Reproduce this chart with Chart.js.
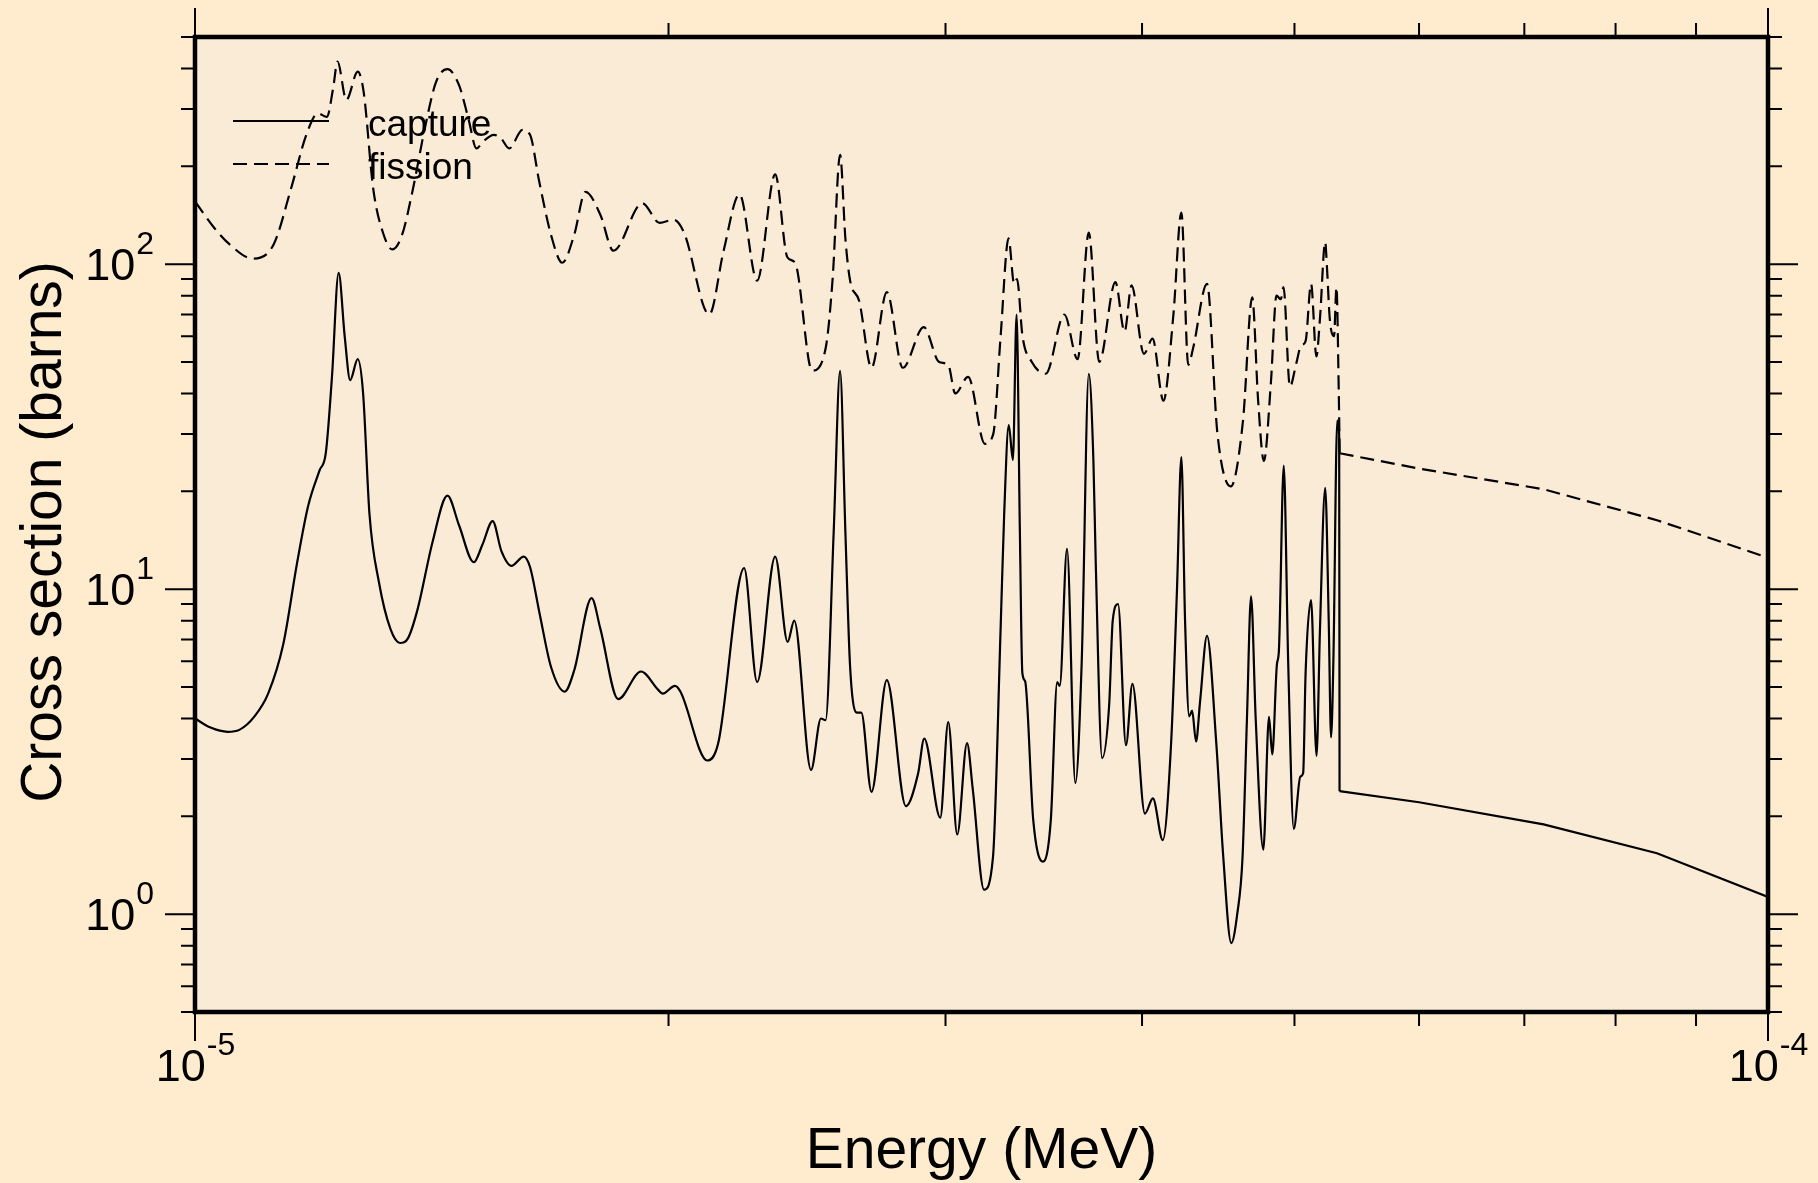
<!DOCTYPE html>
<html>
<head>
<meta charset="utf-8">
<title>Capture and fission cross sections</title>
<script src="https://cdn.jsdelivr.net/npm/chart.js@4.4.1/dist/chart.umd.min.js"></script>
<style>
  html, body { margin: 0; padding: 0; background: #ffebcd; }
  #wrap { width: 1818px; height: 1183px; position: relative; }
</style>
</head>
<body>
<div id="wrap"><canvas id="xsChart"></canvas></div>
<script>
// energies in MeV, cross sections in barns
// resolved resonance region
const captureEnergy = [
  1.000e-5, 1.023e-5, 1.049e-5, 1.067e-5, 1.091e-5, 1.113e-5, 1.138e-5, 1.161e-5, 1.180e-5, 1.200e-5,
  1.211e-5, 1.222e-5, 1.234e-5, 1.245e-5, 1.255e-5, 1.269e-5, 1.279e-5, 1.291e-5, 1.309e-5, 1.331e-5,
  1.350e-5, 1.366e-5, 1.385e-5, 1.416e-5, 1.447e-5, 1.472e-5, 1.504e-5, 1.523e-5, 1.546e-5, 1.566e-5,
  1.589e-5, 1.618e-5, 1.633e-5, 1.656e-5, 1.684e-5, 1.718e-5, 1.742e-5, 1.787e-5, 1.810e-5, 1.858e-5,
  1.921e-5, 1.970e-5, 1.983e-5, 2.019e-5, 2.035e-5, 2.117e-5, 2.151e-5, 2.234e-5, 2.277e-5, 2.338e-5,
  2.381e-5, 2.404e-5, 2.464e-5, 2.500e-5, 2.517e-5, 2.547e-5, 2.571e-5, 2.591e-5, 2.609e-5, 2.635e-5,
  2.652e-5, 2.692e-5, 2.753e-5, 2.831e-5, 2.882e-5, 2.908e-5, 2.977e-5, 3.012e-5, 3.052e-5, 3.096e-5,
  3.122e-5, 3.174e-5, 3.216e-5, 3.252e-5, 3.269e-5, 3.291e-5, 3.311e-5, 3.329e-5, 3.345e-5, 3.357e-5,
  3.371e-5, 3.411e-5, 3.460e-5, 3.500e-5, 3.533e-5, 3.546e-5, 3.584e-5, 3.628e-5, 3.662e-5, 3.700e-5,
  3.725e-5, 3.738e-5, 3.773e-5, 3.812e-5, 3.832e-5, 3.862e-5, 3.907e-5, 3.944e-5, 4.017e-5, 4.064e-5,
  4.123e-5, 4.174e-5, 4.210e-5, 4.237e-5, 4.260e-5, 4.286e-5, 4.304e-5, 4.329e-5, 4.355e-5, 4.399e-5,
  4.459e-5, 4.505e-5, 4.558e-5, 4.598e-5, 4.634e-5, 4.664e-5, 4.692e-5, 4.724e-5, 4.777e-5, 4.817e-5,
  4.840e-5, 4.873e-5, 4.887e-5, 4.922e-5, 4.954e-5, 4.995e-5, 5.043e-5, 5.064e-5, 5.082e-5, 5.123e-5,
  5.164e-5, 5.190e-5, 5.230e-5, 5.257e-5, 5.275e-5, 5.293e-5, 5.323e-5, 5.338e-5, 5.341e-5
];
const captureXs = [
  4.0, 3.75, 3.64, 3.69, 4.06, 4.77, 6.78, 12, 18, 23.2,
  26.2, 45, 94, 60, 44, 51, 40, 17, 10.5, 7.56,
  6.83, 7.07, 8.65, 14, 19.4, 15.7, 12.1, 13.7, 16.2, 13.1,
  11.8, 12.6, 11.7, 8.42, 5.76, 4.84, 5.62, 9.38, 7.56, 4.59,
  5.58, 4.9, 4.77, 5.04, 4.84, 2.97, 3.36, 11.6, 5.18, 12.6,
  6.88, 8.0, 2.78, 4.0, 3.95, 15, 47, 15, 5.76, 4.17,
  4.17, 2.38, 5.25, 2.15, 2.71, 3.47, 1.98, 3.9, 1.76, 3.36,
  2.43, 1.19, 1.5, 7.56, 17, 32, 25, 70, 15, 5.54,
  5.2, 1.95, 1.45, 1.95, 5.18, 5.04, 13.3, 2.53, 6, 46,
  25, 12, 3.02, 4.4, 8.0, 9.0, 3.31, 5.11, 2.04, 2.27,
  1.69, 3.37, 10, 25.5, 8, 4.06, 4.23, 3.4, 4.53, 7.18,
  3.37, 1.5, 0.815, 1.0, 1.5, 4, 9.5, 4, 1.58, 4.05,
  3.1, 5.87, 6.44, 24, 6, 1.83, 2.65, 2.72, 5.52, 9.25,
  3.07, 7.5, 20.5, 8, 3.5, 6, 33, 30, 2.39
];
// smooth region above the last resonance (straight segments)
const captureTailEnergy = [5.341e-5, 6.0e-5, 7.2e-5, 8.5e-5, 1.0e-4];
const captureTailXs = [2.39, 2.21, 1.89, 1.54, 1.13];

const fissionEnergy = [
  1.000e-5, 1.029e-5, 1.052e-5, 1.088e-5, 1.122e-5, 1.151e-5, 1.177e-5, 1.197e-5, 1.213e-5, 1.224e-5,
  1.232e-5, 1.248e-5, 1.269e-5, 1.280e-5, 1.298e-5, 1.316e-5, 1.335e-5, 1.354e-5, 1.376e-5, 1.400e-5,
  1.423e-5, 1.447e-5, 1.472e-5, 1.492e-5, 1.510e-5, 1.524e-5, 1.549e-5, 1.565e-5, 1.584e-5, 1.615e-5,
  1.633e-5, 1.655e-5, 1.684e-5, 1.712e-5, 1.742e-5, 1.771e-5, 1.810e-5, 1.845e-5, 1.925e-5, 1.974e-5,
  2.015e-5, 2.046e-5, 2.123e-5, 2.168e-5, 2.219e-5, 2.277e-5, 2.338e-5, 2.380e-5, 2.407e-5, 2.468e-5,
  2.517e-5, 2.543e-5, 2.571e-5, 2.591e-5, 2.609e-5, 2.644e-5, 2.692e-5, 2.753e-5, 2.818e-5, 2.906e-5,
  2.972e-5, 3.012e-5, 3.043e-5, 3.101e-5, 3.178e-5, 3.217e-5, 3.252e-5, 3.290e-5, 3.317e-5, 3.331e-5,
  3.358e-5, 3.404e-5, 3.474e-5, 3.570e-5, 3.640e-5, 3.700e-5, 3.757e-5, 3.847e-5, 3.899e-5, 3.939e-5,
  4.011e-5, 4.062e-5, 4.127e-5, 4.188e-5, 4.237e-5, 4.280e-5, 4.310e-5, 4.399e-5, 4.467e-5, 4.555e-5,
  4.637e-5, 4.700e-5, 4.741e-5, 4.781e-5, 4.830e-5, 4.870e-5, 4.901e-5, 4.920e-5, 4.967e-5, 5.013e-5,
  5.047e-5, 5.082e-5, 5.123e-5, 5.163e-5, 5.190e-5, 5.230e-5, 5.244e-5, 5.265e-5, 5.298e-5, 5.317e-5,
  5.335e-5, 5.342e-5
];
const fissionXs = [
  156, 129, 115, 104, 115, 171, 250, 291, 284, 347,
  420, 320, 391, 339, 171, 126, 111, 123, 171, 262,
  363, 398, 355, 281, 227, 238, 250, 244, 227, 259,
  250, 180, 123, 101, 123, 167, 142, 110, 154, 134,
  137, 125, 70, 110, 164, 89, 189, 105, 101, 47,
  55, 90, 217, 120, 89, 77, 48, 82, 48, 64,
  50, 49, 40, 45, 28, 30, 60, 120, 87, 90,
  60, 50, 46, 70, 51, 125, 50, 88, 62, 86,
  53, 59, 38, 70, 144, 49, 55, 87, 30, 20.7,
  33, 79, 38, 24.8, 43, 80, 78, 85, 42, 49.5,
  56, 58, 87, 52, 68, 117, 97, 68, 60, 85,
  40, 26.2
];
const fissionTailEnergy = [5.342e-5, 6.0e-5, 7.2e-5, 8.5e-5, 1.0e-4];
const fissionTailXs = [26.2, 23.5, 20.3, 16.3, 12.5];

const xMajorTicks = [1e-5, 1e-4];
const xMinorTicks = [2e-5, 3e-5, 4e-5, 5e-5, 6e-5, 7e-5, 8e-5, 9e-5];
const xTickLabels = [["10", "-5"], ["10", "-4"]];
const yMajorTicks = [1, 10, 100];
const yMinorTicks = [0.5, 0.6, 0.7, 0.8, 0.9, 2, 3, 4, 5, 6, 7, 8, 9,
  20, 30, 40, 50, 60, 70, 80, 90, 200, 300, 400, 500];
const yTickLabels = [["10", "0"], ["10", "1"], ["10", "2"]];

const FONT = '"Liberation Sans", Arial, Helvetica, sans-serif';

function toPoints(xs, ys) {
  return xs.map((e, i) => ({ x: e, y: ys[i] }));
}

function drawPower(ctx, parts, x, base, align) {
  ctx.font = `45px ${FONT}`;
  const wb = ctx.measureText(parts[0]).width;
  ctx.font = `32px ${FONT}`;
  const we = ctx.measureText(parts[1]).width;
  const left = align === "center" ? x - (wb + we) / 2 : x - wb - we;
  ctx.textAlign = "left";
  ctx.textBaseline = "alphabetic";
  ctx.font = `45px ${FONT}`;
  ctx.fillText(parts[0], left, base);
  ctx.font = `32px ${FONT}`;
  ctx.fillText(parts[1], left + wb + 1, base - 26);
}

const framePlugin = {
  id: "frame",
  beforeDraw(chart) {
    const { ctx, chartArea: a } = chart;
    ctx.save();
    ctx.fillStyle = "#ffebcd";
    ctx.fillRect(0, 0, chart.width, chart.height);
    ctx.fillStyle = "#faebd7";
    ctx.fillRect(a.left, a.top, a.right - a.left, a.bottom - a.top);
    ctx.restore();
  },
  afterDraw(chart) {
    const { ctx, chartArea: a, scales } = chart;
    const xs = scales.x;
    const ys = scales.y;
    ctx.save();
    ctx.strokeStyle = "#000";
    ctx.fillStyle = "#000";

    // ticks on all four sides
    ctx.lineWidth = 2;
    ctx.beginPath();
    const xTick = (v, len) => {
      const px = xs.getPixelForValue(v);
      ctx.moveTo(px, a.bottom); ctx.lineTo(px, a.bottom + len);
      ctx.moveTo(px, a.top); ctx.lineTo(px, a.top - len);
    };
    const yTick = (v, len) => {
      const py = ys.getPixelForValue(v);
      ctx.moveTo(a.left, py); ctx.lineTo(a.left - len, py);
      ctx.moveTo(a.right, py); ctx.lineTo(a.right + len, py);
    };
    xMinorTicks.forEach((v) => xTick(v, 14));
    xMajorTicks.forEach((v) => xTick(v, 29));
    yMinorTicks.forEach((v) => yTick(v, 14));
    yMajorTicks.forEach((v) => yTick(v, 30));
    ctx.stroke();

    // frame
    ctx.lineWidth = 4.5;
    ctx.strokeRect(a.left, a.top, a.right - a.left, a.bottom - a.top);

    // tick labels
    xMajorTicks.forEach((v, i) => {
      drawPower(ctx, xTickLabels[i], xs.getPixelForValue(v), 1081, "center");
    });
    yMajorTicks.forEach((v, i) => {
      drawPower(ctx, yTickLabels[i], 153, ys.getPixelForValue(v) + 16, "right");
    });

    // axis titles
    ctx.font = `57px ${FONT}`;
    ctx.textAlign = "center";
    ctx.textBaseline = "alphabetic";
    ctx.fillText("Energy (MeV)", (a.left + a.right) / 2, 1168);
    ctx.save();
    ctx.translate(61, 532);
    ctx.rotate(-Math.PI / 2);
    ctx.fillText("Cross section (barns)", 0, 0);
    ctx.restore();

    // legend
    const rows = [121, 164];
    chart.data.datasets.filter((ds) => !ds.noLegend).forEach((ds, i) => {
      ctx.lineWidth = ds.borderWidth;
      ctx.setLineDash(ds.borderDash || []);
      ctx.beginPath();
      ctx.moveTo(233, rows[i]);
      ctx.lineTo(329, rows[i]);
      ctx.stroke();
      ctx.setLineDash([]);
      ctx.font = `37px ${FONT}`;
      ctx.textAlign = "left";
      ctx.fillText(ds.label, 368, rows[i] + 15);
    });
    ctx.restore();
  },
};

const lineBase = { borderColor: "#000", borderWidth: 2.2, pointRadius: 0 };

new Chart(document.getElementById("xsChart"), {
  type: "line",
  data: {
    datasets: [
      {
        ...lineBase,
        label: "capture",
        data: toPoints(captureEnergy, captureXs),
        cubicInterpolationMode: "monotone",
      },
      {
        ...lineBase,
        label: "fission",
        data: toPoints(fissionEnergy, fissionXs),
        borderDash: [14, 7],
        cubicInterpolationMode: "monotone",
      },
      {
        ...lineBase,
        label: "capture",
        noLegend: true,
        data: toPoints(captureTailEnergy, captureTailXs),
        tension: 0,
      },
      {
        ...lineBase,
        label: "fission",
        noLegend: true,
        data: toPoints(fissionTailEnergy, fissionTailXs),
        borderDash: [14, 7],
        tension: 0,
      },
    ],
  },
  options: {
    responsive: true,
    maintainAspectRatio: false,
    animation: false,
    devicePixelRatio: 1,
    layout: { padding: { left: 195, right: 50, top: 37, bottom: 171 } },
    plugins: { legend: { display: false }, tooltip: { enabled: false } },
    scales: {
      x: { type: "logarithmic", min: 1e-5, max: 1e-4, display: false },
      y: { type: "logarithmic", min: 0.5, max: 500, display: false },
    },
  },
  plugins: [framePlugin],
});
</script>
</body>
</html>
